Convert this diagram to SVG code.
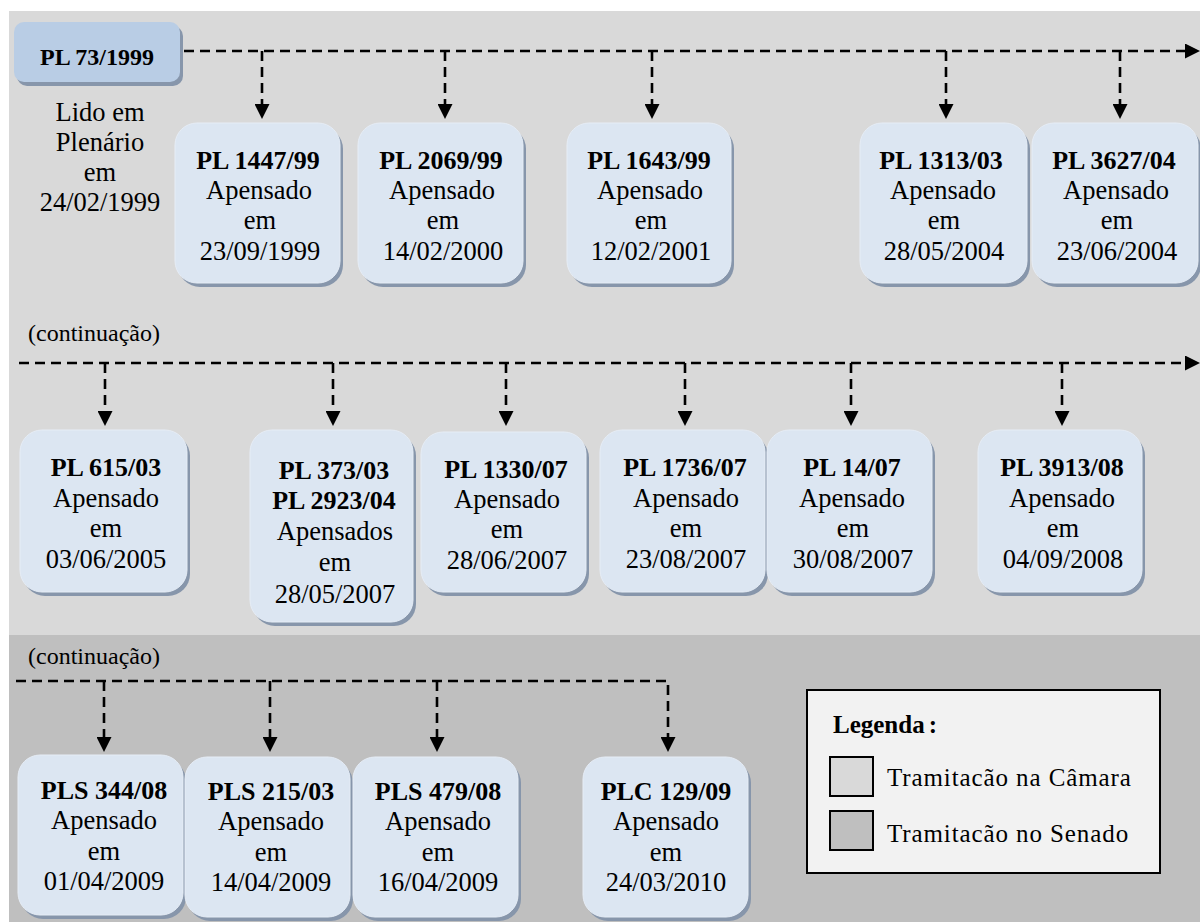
<svg xmlns="http://www.w3.org/2000/svg" width="1200" height="922" viewBox="0 0 1200 922">
<style>
.bx{fill:#dce6f2;stroke:#e6edf6;stroke-width:1}
.sh{fill:#8796ab}
.ln{fill:none;stroke:#000;stroke-width:2.6;stroke-dasharray:10 6}
</style>
<defs>
<marker id="ah" markerUnits="userSpaceOnUse" markerWidth="15" markerHeight="15" refX="0" refY="7.5" orient="auto" viewBox="0 0 15 15">
<path d="M0,0 L15,7.5 L0,15 z" fill="#000"/>
</marker>
</defs>
<rect x="0" y="0" width="1200" height="922" fill="#fff"/>
<rect id="camara" x="9" y="11" width="1191" height="624" fill="#d9d9d9"/>
<rect id="senado" x="9" y="635" width="1191" height="287" fill="#bfbfbf"/>

<g id="connectors">
<path class="ln" d="M184,51 H1185" marker-end="url(#ah)"/>
<path class="ln" d="M262,51 V104" marker-end="url(#ah)"/>
<path class="ln" d="M445,51 V104" marker-end="url(#ah)"/>
<path class="ln" d="M652,51 V104" marker-end="url(#ah)"/>
<path class="ln" d="M946,51 V104" marker-end="url(#ah)"/>
<path class="ln" d="M1120,51 V104" marker-end="url(#ah)"/>
<path class="ln" d="M19,363 H1185" marker-end="url(#ah)"/>
<path class="ln" d="M105,363 V411" marker-end="url(#ah)"/>
<path class="ln" d="M333,363 V411" marker-end="url(#ah)"/>
<path class="ln" d="M506,363 V411" marker-end="url(#ah)"/>
<path class="ln" d="M685,363 V411" marker-end="url(#ah)"/>
<path class="ln" d="M851,363 V411" marker-end="url(#ah)"/>
<path class="ln" d="M1062,363 V411" marker-end="url(#ah)"/>
<path class="ln" d="M16,681 H668 V737" marker-end="url(#ah)"/>
<path class="ln" d="M104,681 V737" marker-end="url(#ah)"/>
<path class="ln" d="M270,681 V737" marker-end="url(#ah)"/>
<path class="ln" d="M437,681 V737" marker-end="url(#ah)"/>
</g>

<g id="pl73">
<rect class="sh" x="17" y="26" width="166" height="60" rx="10"/>
<rect x="14" y="22" width="166" height="60" rx="10" fill="#b9cde5"/>
<text x="97" y="65" text-anchor="middle" font-weight="bold" font-family="'Liberation Serif', serif" font-size="24" style="font-family:'Liberation Serif',serif;font-size:24px;font-weight:bold">PL 73/1999</text>
</g>
<g id="lido">
<text text-anchor="middle" font-family="'Liberation Serif', serif" font-size="26.5" style="font-family:'Liberation Serif',serif;font-size:26.5px"><tspan x="100" y="121">Lido em</tspan><tspan x="100" y="151">Plenário</tspan><tspan x="100" y="181">em</tspan><tspan x="100" y="211">24/02/1999</tspan></text>
</g>

<g id="pl1447">
<rect class="sh" x="178" y="127" width="165" height="160" rx="22"/>
<rect class="bx" x="175" y="123" width="165" height="160" rx="22"/>
<text text-anchor="middle" font-family="'Liberation Serif', serif" font-size="26.5" style="font-family:'Liberation Serif',serif;font-size:26.5px"><tspan font-weight="bold" style="font-weight:bold;font-size:26px" x="258" y="169">PL 1447/99</tspan><tspan x="259" y="199">Apensado</tspan><tspan x="260" y="229">em</tspan><tspan x="260" y="260">23/09/1999</tspan></text>
</g>
<g id="pl2069">
<rect class="sh" x="361" y="127" width="165" height="160" rx="22"/>
<rect class="bx" x="358" y="123" width="165" height="160" rx="22"/>
<text text-anchor="middle" font-family="'Liberation Serif', serif" font-size="26.5" style="font-family:'Liberation Serif',serif;font-size:26.5px"><tspan font-weight="bold" style="font-weight:bold;font-size:26px" x="441" y="169">PL 2069/99</tspan><tspan x="442" y="199">Apensado</tspan><tspan x="443" y="229">em</tspan><tspan x="443" y="260">14/02/2000</tspan></text>
</g>
<g id="pl1643">
<rect class="sh" x="570" y="127" width="164" height="160" rx="22"/>
<rect class="bx" x="567" y="123" width="164" height="160" rx="22"/>
<text text-anchor="middle" font-family="'Liberation Serif', serif" font-size="26.5" style="font-family:'Liberation Serif',serif;font-size:26.5px"><tspan font-weight="bold" style="font-weight:bold;font-size:26px" x="649" y="169">PL 1643/99</tspan><tspan x="650" y="199">Apensado</tspan><tspan x="651" y="229">em</tspan><tspan x="651" y="260">12/02/2001</tspan></text>
</g>
<g id="pl1313">
<rect class="sh" x="863" y="127" width="167" height="160" rx="22"/>
<rect class="bx" x="860" y="123" width="167" height="160" rx="22"/>
<text text-anchor="middle" font-family="'Liberation Serif', serif" font-size="26.5" style="font-family:'Liberation Serif',serif;font-size:26.5px"><tspan font-weight="bold" style="font-weight:bold;font-size:26px" x="941" y="169">PL 1313/03</tspan><tspan x="943" y="199">Apensado</tspan><tspan x="944" y="229">em</tspan><tspan x="944" y="260">28/05/2004</tspan></text>
</g>
<g id="pl3627">
<rect class="sh" x="1035" y="127" width="166" height="160" rx="22"/>
<rect class="bx" x="1032" y="123" width="166" height="160" rx="22"/>
<text text-anchor="middle" font-family="'Liberation Serif', serif" font-size="26.5" style="font-family:'Liberation Serif',serif;font-size:26.5px"><tspan font-weight="bold" style="font-weight:bold;font-size:26px" x="1114" y="169">PL 3627/04</tspan><tspan x="1116" y="199">Apensado</tspan><tspan x="1117" y="229">em</tspan><tspan x="1117" y="260">23/06/2004</tspan></text>
</g>

<text id="cont1" x="28" y="341" font-family="'Liberation Serif', serif" font-size="24" style="font-family:'Liberation Serif',serif;font-size:24px">(continuação)</text>

<g id="pl615">
<rect class="sh" x="23" y="434" width="167" height="162" rx="22"/>
<rect class="bx" x="20" y="430" width="167" height="162" rx="22"/>
<text text-anchor="middle" font-family="'Liberation Serif', serif" font-size="26.5" style="font-family:'Liberation Serif',serif;font-size:26.5px"><tspan font-weight="bold" style="font-weight:bold;font-size:26px" x="106" y="476">PL 615/03</tspan><tspan x="106" y="507">Apensado</tspan><tspan x="106" y="537">em</tspan><tspan x="106" y="568">03/06/2005</tspan></text>
</g>
<g id="pl373">
<rect class="sh" x="253" y="434" width="163" height="192" rx="22"/>
<rect class="bx" x="250" y="430" width="163" height="192" rx="22"/>
<text text-anchor="middle" font-family="'Liberation Serif', serif" font-size="26.5" style="font-family:'Liberation Serif',serif;font-size:26.5px"><tspan font-weight="bold" style="font-weight:bold;font-size:26px" x="334" y="479">PL 373/03</tspan><tspan font-weight="bold" style="font-weight:bold;font-size:26px" x="334" y="509">PL 2923/04</tspan><tspan x="335" y="540">Apensados</tspan><tspan x="335" y="571">em</tspan><tspan x="335" y="603">28/05/2007</tspan></text>
</g>
<g id="pl1330">
<rect class="sh" x="424" y="436" width="165" height="160" rx="22"/>
<rect class="bx" x="421" y="432" width="165" height="160" rx="22"/>
<text text-anchor="middle" font-family="'Liberation Serif', serif" font-size="26.5" style="font-family:'Liberation Serif',serif;font-size:26.5px"><tspan font-weight="bold" style="font-weight:bold;font-size:26px" x="506" y="478">PL 1330/07</tspan><tspan x="507" y="508">Apensado</tspan><tspan x="507" y="538">em</tspan><tspan x="507" y="569">28/06/2007</tspan></text>
</g>
<g id="pl1736">
<rect class="sh" x="603" y="434" width="165" height="162" rx="22"/>
<rect class="bx" x="600" y="430" width="165" height="162" rx="22"/>
<text text-anchor="middle" font-family="'Liberation Serif', serif" font-size="26.5" style="font-family:'Liberation Serif',serif;font-size:26.5px"><tspan font-weight="bold" style="font-weight:bold;font-size:26px" x="685" y="476">PL 1736/07</tspan><tspan x="686" y="507">Apensado</tspan><tspan x="686" y="537">em</tspan><tspan x="686" y="568">23/08/2007</tspan></text>
</g>
<g id="pl14">
<rect class="sh" x="770" y="434" width="165" height="162" rx="22"/>
<rect class="bx" x="767" y="430" width="165" height="162" rx="22"/>
<text text-anchor="middle" font-family="'Liberation Serif', serif" font-size="26.5" style="font-family:'Liberation Serif',serif;font-size:26.5px"><tspan font-weight="bold" style="font-weight:bold;font-size:26px" x="852" y="476">PL 14/07</tspan><tspan x="852" y="507">Apensado</tspan><tspan x="853" y="537">em</tspan><tspan x="853" y="568">30/08/2007</tspan></text>
</g>
<g id="pl3913">
<rect class="sh" x="981" y="434" width="164" height="162" rx="22"/>
<rect class="bx" x="978" y="430" width="164" height="162" rx="22"/>
<text text-anchor="middle" font-family="'Liberation Serif', serif" font-size="26.5" style="font-family:'Liberation Serif',serif;font-size:26.5px"><tspan font-weight="bold" style="font-weight:bold;font-size:26px" x="1062" y="476">PL 3913/08</tspan><tspan x="1062" y="507">Apensado</tspan><tspan x="1063" y="537">em</tspan><tspan x="1063" y="568">04/09/2008</tspan></text>
</g>

<text id="cont2" x="28" y="664" font-family="'Liberation Serif', serif" font-size="24" style="font-family:'Liberation Serif',serif;font-size:24px">(continuação)</text>

<g id="pls344">
<rect class="sh" x="21" y="759" width="165" height="160" rx="22"/>
<rect class="bx" x="18" y="755" width="165" height="160" rx="22"/>
<text text-anchor="middle" font-family="'Liberation Serif', serif" font-size="26.5" style="font-family:'Liberation Serif',serif;font-size:26.5px"><tspan font-weight="bold" style="font-weight:bold;font-size:26px" x="104" y="799">PLS 344/08</tspan><tspan x="104" y="829">Apensado</tspan><tspan x="104" y="860">em</tspan><tspan x="104" y="890">01/04/2009</tspan></text>
</g>
<g id="pls215">
<rect class="sh" x="188" y="761" width="165" height="160" rx="22"/>
<rect class="bx" x="185" y="757" width="165" height="160" rx="22"/>
<text text-anchor="middle" font-family="'Liberation Serif', serif" font-size="26.5" style="font-family:'Liberation Serif',serif;font-size:26.5px"><tspan font-weight="bold" style="font-weight:bold;font-size:26px" x="271" y="800">PLS 215/03</tspan><tspan x="271" y="830">Apensado</tspan><tspan x="271" y="861">em</tspan><tspan x="271" y="891">14/04/2009</tspan></text>
</g>
<g id="pls479">
<rect class="sh" x="356" y="761" width="165" height="160" rx="22"/>
<rect class="bx" x="353" y="757" width="165" height="160" rx="22"/>
<text text-anchor="middle" font-family="'Liberation Serif', serif" font-size="26.5" style="font-family:'Liberation Serif',serif;font-size:26.5px"><tspan font-weight="bold" style="font-weight:bold;font-size:26px" x="438" y="800">PLS 479/08</tspan><tspan x="438" y="830">Apensado</tspan><tspan x="438" y="861">em</tspan><tspan x="438" y="891">16/04/2009</tspan></text>
</g>
<g id="plc129">
<rect class="sh" x="586" y="761" width="165" height="160" rx="22"/>
<rect class="bx" x="583" y="757" width="165" height="160" rx="22"/>
<text text-anchor="middle" font-family="'Liberation Serif', serif" font-size="26.5" style="font-family:'Liberation Serif',serif;font-size:26.5px"><tspan font-weight="bold" style="font-weight:bold;font-size:26px" x="666" y="800">PLC 129/09</tspan><tspan x="666" y="830">Apensado</tspan><tspan x="666" y="861">em</tspan><tspan x="666" y="891">24/03/2010</tspan></text>
</g>

<g id="legenda">
<rect x="807" y="690" width="353" height="183" fill="#f2f2f2" stroke="#000" stroke-width="2"/>
<text x="833" y="733" font-family="'Liberation Serif', serif" font-size="25" font-weight="bold" style="font-family:'Liberation Serif',serif;font-size:25px;font-weight:bold">Legenda<tspan dx="4">:</tspan></text>
<rect x="830" y="757" width="43" height="39" fill="#d9d9d9" stroke="#000" stroke-width="2"/>
<text x="887" y="786" font-family="'Liberation Serif', serif" font-size="25" letter-spacing="0.9" style="font-family:'Liberation Serif',serif;font-size:25px">Tramitacão na Câmara</text>
<rect x="830" y="811" width="43" height="39" fill="#bfbfbf" stroke="#000" stroke-width="2"/>
<text x="887" y="842" font-family="'Liberation Serif', serif" font-size="25" letter-spacing="0.9" style="font-family:'Liberation Serif',serif;font-size:25px">Tramitacão no Senado</text>
</g>
</svg>
